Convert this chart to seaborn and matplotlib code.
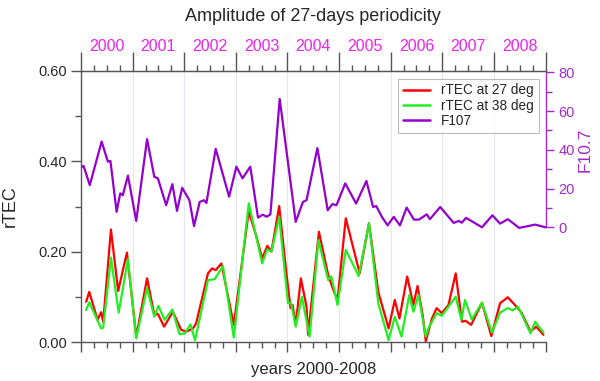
import matplotlib
matplotlib.use("Agg")
import matplotlib.pyplot as plt
import seaborn as sns
from matplotlib.lines import Line2D

# rTEC at 27 deg (time in decimal years, amplitude)
t27 = [2000.10, 2000.16, 2000.32, 2000.39, 2000.43, 2000.58, 2000.72, 2000.89, 2001.07,
       2001.28, 2001.42, 2001.49, 2001.61, 2001.78, 2001.94, 2002.04, 2002.17, 2002.23,
       2002.46, 2002.54, 2002.61, 2002.72, 2002.96, 2003.25, 2003.40, 2003.51, 2003.61,
       2003.69, 2003.84, 2003.98, 2004.06, 2004.10, 2004.16, 2004.26, 2004.37, 2004.40,
       2004.61, 2004.79, 2004.89, 2004.97, 2005.13, 2005.40, 2005.58, 2005.76, 2005.96,
       2006.08, 2006.17, 2006.32, 2006.44, 2006.52, 2006.62, 2006.68, 2006.80, 2006.89,
       2006.99, 2007.12, 2007.26, 2007.38, 2007.45, 2007.56, 2007.77, 2007.95, 2008.12,
       2008.27, 2008.44, 2008.54, 2008.71, 2008.82, 2008.96]
r27 = [0.089, 0.111, 0.049, 0.066, 0.045, 0.249, 0.113, 0.198, 0.012,
       0.141, 0.060, 0.062, 0.034, 0.067, 0.027, 0.023, 0.030, 0.041,
       0.152, 0.163, 0.159, 0.174, 0.038, 0.289, 0.233, 0.185, 0.213,
       0.200, 0.301, 0.152, 0.075, 0.082, 0.038, 0.141, 0.078, 0.016,
       0.244, 0.148, 0.115, 0.093, 0.274, 0.152, 0.263, 0.111, 0.030,
       0.093, 0.052, 0.145, 0.082, 0.124, 0.060, 0.002, 0.052, 0.075,
       0.064, 0.082, 0.152, 0.045, 0.047, 0.038, 0.087, 0.013, 0.086,
       0.099, 0.078, 0.064, 0.023, 0.034, 0.016]

# rTEC at 38 deg
t38 = [2000.10, 2000.16, 2000.39, 2000.43, 2000.58, 2000.73, 2000.91, 2001.07, 2001.28,
       2001.42, 2001.50, 2001.62, 2001.77, 2001.91, 2002.01, 2002.12, 2002.21, 2002.46,
       2002.59, 2002.75, 2002.96, 2003.25, 2003.51, 2003.61, 2003.69, 2003.84, 2004.01,
       2004.07, 2004.16, 2004.28, 2004.43, 2004.60, 2004.79, 2004.85, 2004.97, 2005.13,
       2005.38, 2005.58, 2005.76, 2005.96, 2006.08, 2006.21, 2006.36, 2006.44, 2006.54,
       2006.68, 2006.73, 2006.89, 2006.99, 2007.26, 2007.37, 2007.44, 2007.57, 2007.77,
       2007.96, 2008.12, 2008.27, 2008.36, 2008.47, 2008.71, 2008.80, 2008.96]
r38 = [0.071, 0.088, 0.030, 0.032, 0.187, 0.065, 0.184, 0.008, 0.120,
       0.056, 0.080, 0.049, 0.072, 0.017, 0.019, 0.039, 0.004, 0.137,
       0.139, 0.168, 0.010, 0.307, 0.174, 0.205, 0.200, 0.277, 0.086,
       0.086, 0.034, 0.100, 0.012, 0.226, 0.137, 0.145, 0.082, 0.204,
       0.146, 0.263, 0.086, 0.004, 0.056, 0.012, 0.104, 0.067, 0.104,
       0.012, 0.030, 0.064, 0.058, 0.100, 0.049, 0.093, 0.050, 0.087,
       0.021, 0.065, 0.075, 0.070, 0.078, 0.019, 0.045, 0.021]

# F10.7 amplitude
tf = [2000.00, 2000.05, 2000.17, 2000.40, 2000.52, 2000.57, 2000.69, 2000.76, 2000.81,
      2000.91, 2001.07, 2001.28, 2001.42, 2001.49, 2001.65, 2001.77, 2001.86, 2001.96,
      2002.10, 2002.19, 2002.30, 2002.38, 2002.43, 2002.61, 2002.87, 2003.01, 2003.13,
      2003.28, 2003.43, 2003.52, 2003.60, 2003.67, 2003.85, 2004.16, 2004.30, 2004.37,
      2004.58, 2004.78, 2004.87, 2004.95, 2005.12, 2005.33, 2005.53, 2005.66, 2005.72,
      2005.83, 2005.94, 2006.06, 2006.18, 2006.31, 2006.45, 2006.55, 2006.70, 2006.76,
      2006.96, 2007.22, 2007.32, 2007.38, 2007.46, 2007.77, 2007.97, 2008.12, 2008.27,
      2008.49, 2008.80, 2009.00]
f107 = [31.0, 31.7, 21.8, 44.3, 33.9, 34.3, 8.0, 17.5, 16.6,
        26.7, 3.3, 45.5, 26.1, 25.3, 11.4, 22.3, 8.5, 20.4,
        14.0, 0.7, 13.1, 14.0, 12.6, 40.5, 15.8, 31.3, 25.3,
        31.3, 5.0, 6.5, 5.5, 6.7, 66.3, 2.8, 13.1, 14.0,
        40.9, 8.8, 12.0, 11.4, 22.7, 12.3, 23.9, 10.5, 11.0,
        5.4, 1.0, 5.4, 1.0, 10.2, 4.0, 4.0, 6.7, 4.2,
        10.5, 2.3, 3.3, 2.4, 4.9, 0.0, 6.2, 1.9, 4.2,
        -0.3, 1.4, 0.0]

years = list(range(2000, 2009))
year_labels = [str(y) for y in years]

red = "#ff0000"
green = "#22ee22"
purple = "#9400cc"
right_col = "#a22ac8"
mag = "#ee22ee"
axis_col = "#555555"

sns.set_style("ticks")
plt.rcParams["font.family"] = ["Liberation Sans", "DejaVu Sans"]

fig = plt.figure(figsize=(6, 3.81), dpi=100)
ax = fig.add_axes([81 / 600, 39 / 381, 464.5 / 600, 271 / 381])

for x in range(2001, 2009):
    ax.axvline(x, color="#e6e6ee", lw=0.8, zorder=0)

sns.lineplot(x=t27, y=r27, ax=ax, color=red, lw=1.6, zorder=3)
sns.lineplot(x=t38, y=r38, ax=ax, color=green, lw=1.6, zorder=4)

year_edges = list(range(2000, 2010))
quarters = [y + q / 4 for y in years for q in (1, 2, 3)]

ax.set_xlim(2000, 2009)
ax.set_ylim(0, 0.6)
ax.set_yticks([0, 0.2, 0.4, 0.6])
ax.set_yticklabels(["0.00", "0.20", "0.40", "0.60"])
ax.set_yticks([0.1, 0.3, 0.5], minor=True)
ax.set_xticks(year_edges)
ax.set_xticklabels([])
ax.set_xticks(quarters, minor=True)
ax.tick_params(axis="x", which="major", top=False, bottom=True, length=7, width=1, color=axis_col)
ax.tick_params(axis="x", which="minor", top=False, bottom=True, length=4, width=1, color=axis_col)
ax.tick_params(axis="y", which="major", length=7, width=1, color=axis_col, labelsize=10.5, pad=3)
ax.tick_params(axis="y", which="minor", length=4, width=1, color=axis_col)
for s in ["left", "top", "bottom"]:
    ax.spines[s].set_color(axis_col)
    ax.spines[s].set_linewidth(1)
ax.spines["right"].set_visible(False)
ax.set_ylabel("rTEC", fontsize=13, labelpad=14)
ax.set_xlabel("years 2000-2008", fontsize=12)
ax.xaxis.set_label_coords(0.5, -0.072)
ax.set_title("Amplitude of 27-days periodicity", fontsize=13, pad=36)

# top ticks: long at year edges, short at quarters
top_ticks = ax.secondary_xaxis("top")
top_ticks.set_xticks(year_edges)
top_ticks.set_xticklabels([])
top_ticks.set_xticks(quarters, minor=True)
top_ticks.tick_params(which="major", length=14, width=1, color=axis_col)
top_ticks.tick_params(which="minor", length=4, width=1, color=axis_col)
top_ticks.spines["top"].set_color(axis_col)

# top year labels, centred in each year
top = ax.secondary_xaxis("top")
top.set_xticks([y + 0.5 for y in years])
top.set_xticklabels(year_labels, color=mag, fontsize=11.5)
top.tick_params(length=0, pad=12)
top.spines["top"].set_visible(False)

# right axis F10.7
ax2 = ax.twinx()
sns.lineplot(x=tf, y=f107, ax=ax2, color=purple, lw=1.6, zorder=3)
ax2.set_ylim(-59.2, 80.7)
ax2.set_yticks([0, 20, 40, 60, 80])
ax2.set_yticks([10, 30, 50, 70], minor=True)
ax2.spines["right"].set_bounds(0, 80)
ax2.spines["right"].set_color(right_col)
ax2.spines["right"].set_linewidth(1)
for s in ["left", "top", "bottom"]:
    ax2.spines[s].set_visible(False)
ax2.tick_params(axis="y", which="major", length=6, width=1, color=right_col,
                labelcolor=right_col, labelsize=10.5)
ax2.tick_params(axis="y", which="minor", length=4, width=1, color=right_col)
ax2.set_ylabel("F10.7", color=right_col, fontsize=12.5)
ax2.yaxis.set_label_coords(1.07, 0.71)

handles = [Line2D([], [], color=red, lw=1.8),
           Line2D([], [], color=green, lw=1.8),
           Line2D([], [], color=purple, lw=1.8)]
leg = ax2.legend(handles, ["rTEC at 27 deg", "rTEC at 38 deg", "F107"],
                 loc="upper right", bbox_to_anchor=(0.985, 0.972), fontsize=9.8,
                 frameon=True, fancybox=False, handlelength=2.0, borderpad=0.35,
                 labelspacing=0.1, handletextpad=0.8, borderaxespad=0)
leg.get_frame().set_edgecolor("#aaaaaa")
leg.get_frame().set_linewidth(0.8)

fig.savefig("out.png", dpi=100)
